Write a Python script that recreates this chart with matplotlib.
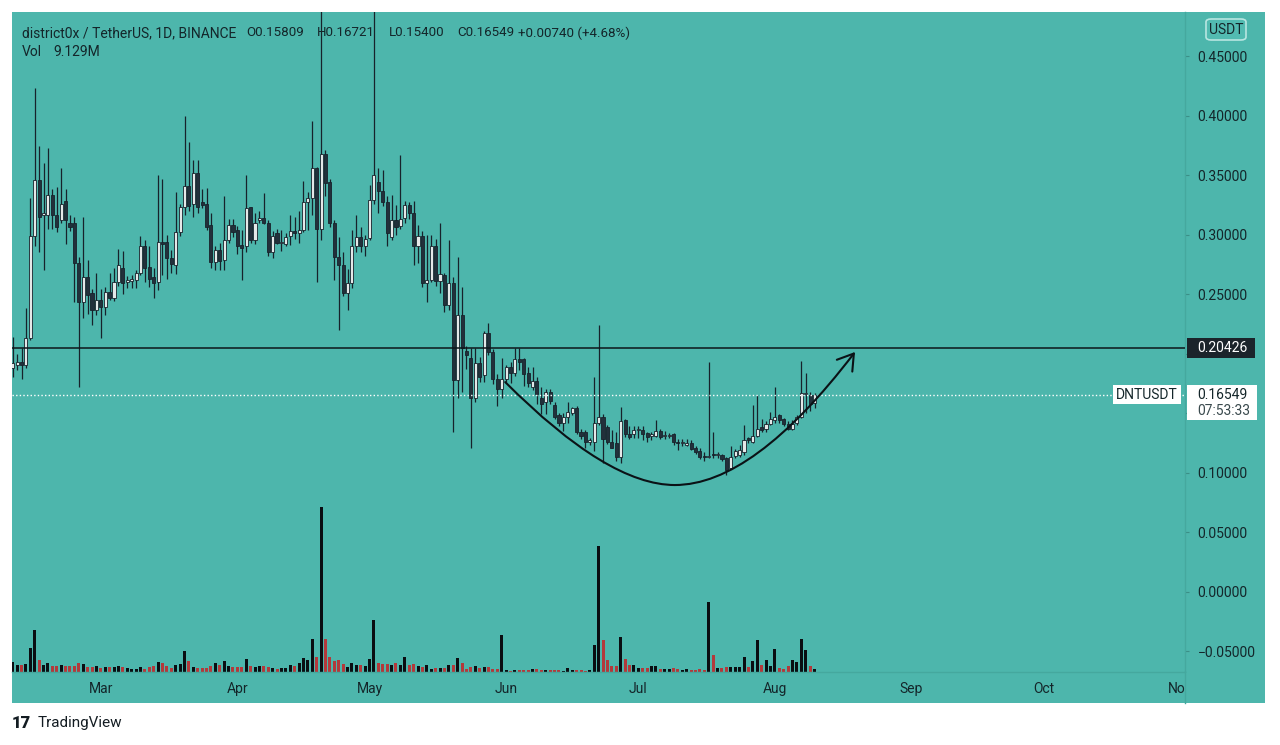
import datetime as dt
import numpy as np
import matplotlib
matplotlib.use("Agg")
import matplotlib.pyplot as plt
from matplotlib.patches import Rectangle, FancyArrowPatch, FancyBboxPatch
from matplotlib.path import Path
from matplotlib.lines import Line2D
from matplotlib.transforms import blended_transform_factory

# daily DNT/USDT candles, first one on 9 Feb 2021
start_date = dt.date(2021, 2, 9)

opens = [
    0.188, 0.190, 0.193, 0.190, 0.213, 0.299, 0.346, 0.316, 0.316, 0.333,
    0.316, 0.312, 0.328, 0.310, 0.310, 0.276, 0.243, 0.264, 0.251, 0.237,
    0.245, 0.239, 0.252, 0.247, 0.260, 0.272, 0.260, 0.261, 0.262, 0.268,
    0.290, 0.273, 0.264, 0.260, 0.294, 0.294, 0.280, 0.274, 0.302, 0.323,
    0.341, 0.326, 0.352, 0.327, 0.326, 0.308, 0.277, 0.287, 0.279, 0.295,
    0.308, 0.304, 0.291, 0.290, 0.323, 0.295, 0.312, 0.314, 0.310, 0.285,
    0.301, 0.293, 0.292, 0.299, 0.303, 0.301, 0.304, 0.327, 0.331, 0.356,
    0.305, 0.368, 0.344, 0.310, 0.281, 0.274, 0.251, 0.259, 0.290, 0.298,
    0.290, 0.297, 0.329, 0.344, 0.337, 0.327, 0.298, 0.312, 0.307, 0.314,
    0.325, 0.318, 0.290, 0.299, 0.259, 0.262, 0.290, 0.261, 0.266, 0.241,
    0.259, 0.178, 0.232, 0.202, 0.196, 0.163, 0.192, 0.182, 0.217, 0.201,
    0.179, 0.170, 0.179, 0.189, 0.184, 0.195, 0.195, 0.184, 0.172, 0.177,
    0.163, 0.159, 0.168, 0.157, 0.148, 0.142, 0.147, 0.150, 0.154, 0.134,
    0.134, 0.126, 0.126, 0.142, 0.147, 0.138, 0.126, 0.125, 0.113, 0.144,
    0.132, 0.132, 0.1355, 0.136, 0.133, 0.131, 0.131, 0.135, 0.1305, 0.131,
    0.132, 0.126, 0.1245, 0.123, 0.125, 0.121, 0.118, 0.114, 0.113, 0.116,
    0.115, 0.115, 0.112, 0.104, 0.114, 0.115, 0.117, 0.129, 0.126, 0.131,
    0.138, 0.137, 0.141, 0.144, 0.148, 0.145, 0.141, 0.137, 0.142, 0.147,
    0.166, 0.165, 0.15809,
]
closes = [
    0.192, 0.193, 0.190, 0.213, 0.299, 0.346, 0.315, 0.318, 0.333, 0.316,
    0.306, 0.326, 0.312, 0.306, 0.276, 0.243, 0.264, 0.249, 0.237, 0.245,
    0.239, 0.252, 0.247, 0.260, 0.274, 0.259, 0.262, 0.263, 0.268, 0.290,
    0.272, 0.263, 0.259, 0.294, 0.292, 0.280, 0.275, 0.302, 0.323, 0.341,
    0.324, 0.352, 0.323, 0.325, 0.306, 0.277, 0.287, 0.278, 0.295, 0.308,
    0.302, 0.290, 0.289, 0.322, 0.295, 0.310, 0.314, 0.310, 0.285, 0.299,
    0.293, 0.294, 0.298, 0.303, 0.301, 0.304, 0.327, 0.331, 0.356, 0.305,
    0.368, 0.343, 0.310, 0.281, 0.274, 0.251, 0.259, 0.290, 0.298, 0.290,
    0.296, 0.329, 0.350, 0.337, 0.327, 0.301, 0.312, 0.306, 0.313, 0.325,
    0.318, 0.290, 0.299, 0.259, 0.262, 0.290, 0.261, 0.267, 0.241, 0.259,
    0.178, 0.232, 0.205, 0.199, 0.163, 0.192, 0.180, 0.217, 0.201, 0.179,
    0.170, 0.179, 0.189, 0.184, 0.195, 0.193, 0.183, 0.175, 0.177, 0.166,
    0.158, 0.168, 0.160, 0.147, 0.142, 0.147, 0.151, 0.154, 0.134, 0.131,
    0.126, 0.127, 0.142, 0.147, 0.128, 0.126, 0.121, 0.113, 0.143, 0.132,
    0.130, 0.136, 0.1362, 0.132, 0.130, 0.132, 0.135, 0.130, 0.131, 0.1312,
    0.126, 0.125, 0.125, 0.125, 0.120, 0.117, 0.113, 0.113, 0.114, 0.115,
    0.1155, 0.111, 0.102, 0.113, 0.118, 0.119, 0.127, 0.127, 0.131, 0.137,
    0.136, 0.141, 0.145, 0.147, 0.144, 0.141, 0.137, 0.141, 0.147, 0.167,
    0.167, 0.158, 0.16549,
]
highs = [
    0.214, 0.200, 0.205, 0.238, 0.331, 0.423, 0.374, 0.360, 0.373, 0.338,
    0.340, 0.356, 0.338, 0.316, 0.315, 0.281, 0.315, 0.279, 0.254, 0.268,
    0.254, 0.256, 0.268, 0.272, 0.288, 0.286, 0.265, 0.266, 0.270, 0.299,
    0.295, 0.290, 0.272, 0.350, 0.347, 0.300, 0.287, 0.336, 0.326, 0.400,
    0.378, 0.363, 0.363, 0.338, 0.339, 0.318, 0.290, 0.293, 0.332, 0.313,
    0.313, 0.307, 0.304, 0.350, 0.323, 0.318, 0.320, 0.335, 0.312, 0.303,
    0.305, 0.304, 0.301, 0.316, 0.315, 0.320, 0.345, 0.336, 0.395, 0.357,
    0.560, 0.371, 0.347, 0.312, 0.298, 0.285, 0.271, 0.304, 0.316, 0.306,
    0.300, 0.342, 0.560, 0.356, 0.354, 0.332, 0.333, 0.325, 0.367, 0.328,
    0.327, 0.328, 0.308, 0.303, 0.300, 0.300, 0.296, 0.310, 0.268, 0.295,
    0.264, 0.281, 0.256, 0.206, 0.205, 0.205, 0.197, 0.219, 0.226, 0.204,
    0.183, 0.196, 0.190, 0.193, 0.205, 0.205, 0.196, 0.189, 0.189, 0.180,
    0.172, 0.170, 0.170, 0.159, 0.150, 0.150, 0.159, 0.155, 0.156, 0.137,
    0.136, 0.129, 0.180, 0.224, 0.149, 0.140, 0.136, 0.134, 0.155, 0.145,
    0.139, 0.139, 0.139, 0.139, 0.134, 0.134, 0.144, 0.137, 0.135, 0.133,
    0.133, 0.128, 0.128, 0.128, 0.127, 0.122, 0.121, 0.117, 0.193, 0.134,
    0.117, 0.116, 0.113, 0.122, 0.120, 0.123, 0.140, 0.130, 0.157, 0.165,
    0.145, 0.143, 0.151, 0.172, 0.149, 0.146, 0.143, 0.144, 0.148, 0.194,
    0.184, 0.168, 0.16721,
]
lows = [
    0.180, 0.186, 0.179, 0.188, 0.211, 0.290, 0.285, 0.270, 0.305, 0.305,
    0.302, 0.310, 0.292, 0.303, 0.243, 0.172, 0.230, 0.233, 0.224, 0.232,
    0.213, 0.232, 0.245, 0.244, 0.257, 0.250, 0.255, 0.255, 0.255, 0.266,
    0.260, 0.256, 0.247, 0.253, 0.266, 0.263, 0.268, 0.267, 0.299, 0.316,
    0.320, 0.315, 0.318, 0.322, 0.304, 0.272, 0.270, 0.270, 0.270, 0.293,
    0.298, 0.284, 0.262, 0.285, 0.293, 0.292, 0.310, 0.309, 0.282, 0.280,
    0.292, 0.286, 0.290, 0.291, 0.296, 0.293, 0.302, 0.304, 0.316, 0.260,
    0.295, 0.332, 0.306, 0.262, 0.220, 0.248, 0.237, 0.255, 0.285, 0.285,
    0.282, 0.295, 0.326, 0.318, 0.324, 0.290, 0.295, 0.300, 0.305, 0.310,
    0.313, 0.274, 0.276, 0.256, 0.243, 0.260, 0.257, 0.251, 0.235, 0.237,
    0.134, 0.163, 0.168, 0.187, 0.121, 0.159, 0.176, 0.176, 0.199, 0.174,
    0.156, 0.163, 0.176, 0.175, 0.181, 0.186, 0.173, 0.172, 0.169, 0.158,
    0.149, 0.149, 0.158, 0.145, 0.139, 0.135, 0.142, 0.148, 0.132, 0.128,
    0.121, 0.123, 0.118, 0.140, 0.108, 0.124, 0.121, 0.110, 0.108, 0.130,
    0.128, 0.129, 0.129, 0.127, 0.126, 0.127, 0.130, 0.128, 0.128, 0.129,
    0.123, 0.119, 0.122, 0.122, 0.119, 0.116, 0.111, 0.110, 0.112, 0.112,
    0.112, 0.110, 0.098, 0.103, 0.112, 0.113, 0.115, 0.125, 0.125, 0.130,
    0.134, 0.134, 0.140, 0.142, 0.142, 0.139, 0.136, 0.136, 0.140, 0.146,
    0.150, 0.152, 0.154,
]
# volume in millions of DNT
volumes = [
    27.4, 20.1, 20.1, 22.8, 65.7, 114, 33.8, 20.1, 24.6, 15.5,
    17.3, 18.3, 17.3, 15.5, 16.4, 24.6, 21.9, 13.7, 13.7, 17.3,
    11.0, 12.8, 12.8, 13.7, 15.5, 13.7, 11.0, 9.1, 9.1, 12.8,
    9.1, 12.8, 17.3, 27.4, 25.6, 15.5, 11.0, 20.1, 22.8, 58.4,
    29.2, 13.7, 11.0, 11.0, 11.0, 15.5, 24.6, 20.1, 31.0, 15.5,
    12.8, 12.8, 13.7, 36.5, 17.3, 12.8, 15.5, 16.4, 14.6, 11.0,
    9.1, 11.0, 11.0, 20.1, 17.3, 25.6, 38.3, 33.8, 91.3, 40.2,
    451, 91.3, 40.2, 31.0, 33.8, 22.8, 14.6, 23.7, 20.1, 18.3,
    17.3, 36.5, 143, 23.7, 21.9, 21.9, 18.3, 23.7, 18.3, 42.0,
    18.3, 21.9, 15.5, 13.7, 18.3, 9.1, 11.0, 11.0, 11.0, 18.3,
    20.1, 38.3, 24.6, 9.1, 13.7, 16.4, 11.0, 13.7, 13.7, 7.3,
    7.3, 100, 5.5, 3.7, 6.4, 4.6, 4.6, 4.6, 7.3, 7.3,
    6.4, 6.4, 4.6, 4.6, 4.6, 3.7, 11.0, 6.4, 6.4, 5.5,
    3.7, 6.4, 73.0, 345, 86.7, 33.8, 15.5, 15.5, 95.9, 36.5,
    18.3, 18.3, 11.0, 11.0, 11.0, 15.5, 15.5, 9.1, 9.1, 9.1,
    11.0, 9.1, 4.6, 7.3, 4.6, 4.6, 7.3, 5.5, 191.7, 45.7,
    11.0, 11.0, 12.8, 13.7, 13.7, 13.7, 41.1, 13.7, 29.2, 86.7,
    20.1, 32.0, 16.4, 63.9, 11.0, 7.3, 16.4, 32.0, 27.4, 91.3,
    59.3, 16.4, 9.129,
]

month_labels = ['Mar', 'Apr', 'May', 'Jun', 'Jul', 'Aug', 'Sep', 'Oct', 'Nov']
month_starts = [dt.date(2021, m, 1) for m in range(3, 12)]
price_ticks = [0.45, 0.40, 0.35, 0.30, 0.25, 0.20, 0.15, 0.10, 0.05, 0.0, -0.05]
# tick labels hidden behind the price badges, as on the screen
hidden_ticks = [0.20, 0.15]
level_price = 0.20426
last_price = 0.16549
# hand drawn "cup" (day index, price): start, ctrl, bottom, ctrl, arrow tip
cup_points = [(111.8, 0.176), (135.1, 0.0895), (150.3, 0.0895),
              (168.1, 0.0895), (191.2, 0.2013)]

header = 'district0x / TetherUS, 1D, BINANCE'
ohlc_text = ['O0.15809', 'H0.16721', 'L0.15400', 'C0.16549', '+0.00740 (+4.68%)']
ohlc_x = [246, 317, 389, 457, 518]

# colours
teal = '#4db6ac'
dark = '#131c22'
txt = '#14262a'
up_fill = '#e4e8e8'
down_fill = '#22303b'
edge = '#17222b'

W, H = 1280, 745
plt.rcParams['font.family'] = ['Roboto', 'DejaVu Sans']
fig = plt.figure(figsize=(W / 100, H / 100), dpi=100, facecolor='white')


def fx(px):
    return px / W


def fy(py):
    return 1 - py / H


# teal panel behind everything (chart + price scale + time scale)
fig.add_artist(Rectangle((fx(12), fy(703)), fx(1265) - fx(12), fy(12) - fy(703),
                         transform=fig.transFigure, facecolor=teal,
                         edgecolor='none', zorder=-1))

rect = [fx(12), fy(672), fx(1185) - fx(12), fy(12) - fy(672)]
ax_vol = fig.add_axes(rect)
ax = fig.add_axes(rect)
for a in (ax_vol, ax):
    a.set_facecolor('none')
    a.set_xlim(-0.16, 266.1)

idx = np.arange(len(opens))
o = np.array(opens)
c = np.array(closes)
up = c >= o

# volume pane
ax_vol.bar(idx, volumes, width=0.68, color=np.where(up, '#0a0e12', '#b3393b'),
           linewidth=0)
ax_vol.set_ylim(0, 1800)
ax_vol.axis('off')

# candles
ymin, ymax = -0.0676, 0.487
ax.set_ylim(ymin, ymax)
ax.vlines(idx, lows, highs, color=edge, lw=0.9, zorder=3)
body_bottom = np.minimum(o, c)
body_height = np.maximum(np.abs(c - o), 0.0009)
ax.bar(idx, body_height, bottom=body_bottom, width=0.7,
       color=np.where(up, up_fill, down_fill), edgecolor=edge,
       linewidth=0.6, zorder=4)

# horizontal level and last price line
ax.axhline(level_price, color='#0d161b', lw=1.1, zorder=5)
ax.axhline(last_price, color='white', lw=1.0, ls=(0, (1, 1.6)), zorder=5)

# cup drawing with arrow
cup_path = Path(cup_points, [Path.MOVETO, Path.CURVE3, Path.CURVE3,
                             Path.CURVE3, Path.CURVE3])
cup = FancyArrowPatch(path=cup_path, arrowstyle='->,head_length=0.55,head_width=0.35',
                      mutation_scale=20, color='#0b1216', lw=1.5,
                      transform=ax.transData, zorder=6)
ax.add_patch(cup)

# axes styling
for side in ('left', 'top'):
    ax.spines[side].set_visible(False)
for side in ('right', 'bottom'):
    ax.spines[side].set_color('#45a89e')
    ax.spines[side].set_linewidth(1.0)
ax.yaxis.tick_right()
ax.set_yticks(price_ticks)
ax.set_yticklabels(['' if t in hidden_ticks else f'{t:.5f}'.replace('-', '\u2212')
                    for t in price_ticks])
ax.tick_params(axis='y', length=3, width=0.8, color='#3b8f87', pad=6,
               labelsize=10, labelcolor=txt)
month_pos = [(d - start_date).days for d in month_starts]
ax.set_xticks(month_pos)
ax.set_xticklabels(month_labels)
ax.tick_params(axis='x', length=0, pad=7, labelsize=10, labelcolor=txt)

# cover the part of the time scale under the price scale ("Nov" gets cut)
fig.add_artist(Rectangle((fx(1186), fy(703)), fx(1265) - fx(1186), fy(673) - fy(703),
                         transform=fig.transFigure, facecolor=teal,
                         edgecolor='none', zorder=5))
fig.add_artist(Line2D([fx(1185), fx(1185)], [fy(672), fy(703)],
                      transform=fig.transFigure, color='#45a89e', lw=1.0, zorder=6))

# price scale labels
bt = blended_transform_factory(ax.transAxes, ax.transData)
ppx = (ymax - ymin) / 660.0
apx = 1.0 / 1173.0
ax.add_patch(Rectangle((1175 * apx, level_price - 10 * ppx), 68 * apx, 20 * ppx,
                       transform=bt, facecolor='#1b242b', edgecolor='none',
                       clip_on=False, zorder=7))
ax.text(1185 * apx, level_price, '0.20426', transform=bt, color='white',
        fontsize=10, va='center', ha='left', zorder=8, clip_on=False)

ax.add_patch(Rectangle((1101 * apx, last_price - 9.5 * ppx), 68 * apx, 19 * ppx,
                       transform=bt, facecolor='white', edgecolor='none',
                       clip_on=False, zorder=7))
ax.text(1135 * apx, last_price, 'DNTUSDT', transform=bt, color=txt,
        fontsize=10, va='center', ha='center', zorder=8, clip_on=False)
ax.add_patch(Rectangle((1175 * apx, last_price - 25 * ppx), 70 * apx, 35 * ppx,
                       transform=bt, facecolor='white', edgecolor='none',
                       clip_on=False, zorder=7))
ax.text(1185 * apx, last_price, '0.16549', transform=bt, color=txt,
        fontsize=10, va='center', ha='left', zorder=8, clip_on=False)
ax.text(1185 * apx, last_price - 16 * ppx, '07:53:33', transform=bt, color='#3a4a4e',
        fontsize=10, va='center', ha='left', zorder=8, clip_on=False)

# currency badge
fig.add_artist(FancyBboxPatch((fx(1206), fy(40)), fx(1246) - fx(1206), fy(19) - fy(40),
                              boxstyle='round,pad=0,rounding_size=0.004',
                              transform=fig.transFigure, facecolor='#52bbb1',
                              edgecolor='#b8e6e1', lw=1.2, zorder=7))
fig.text(fx(1226), fy(29.5), 'USDT', color=txt, fontsize=10, ha='center',
         va='center', zorder=8)

# legend texts
fig.text(fx(22), fy(33), header, color=txt, fontsize=10, va='center')
for xp, s in zip(ohlc_x, ohlc_text):
    fig.text(fx(xp), fy(33), s, color=txt, fontsize=9.6, va='center')
fig.text(fx(22), fy(52), 'Vol', color=txt, fontsize=10, va='center')
fig.text(fx(53), fy(52), '9.129M', color=txt, fontsize=10, va='center')

# footer logo
fig.text(fx(12), fy(723), '17', color=dark, fontsize=12, fontweight='black',
         va='center')
fig.text(fx(38), fy(723), 'TradingView', color=dark, fontsize=11, va='center')

fig.savefig('out.png', dpi=100, facecolor='white')
